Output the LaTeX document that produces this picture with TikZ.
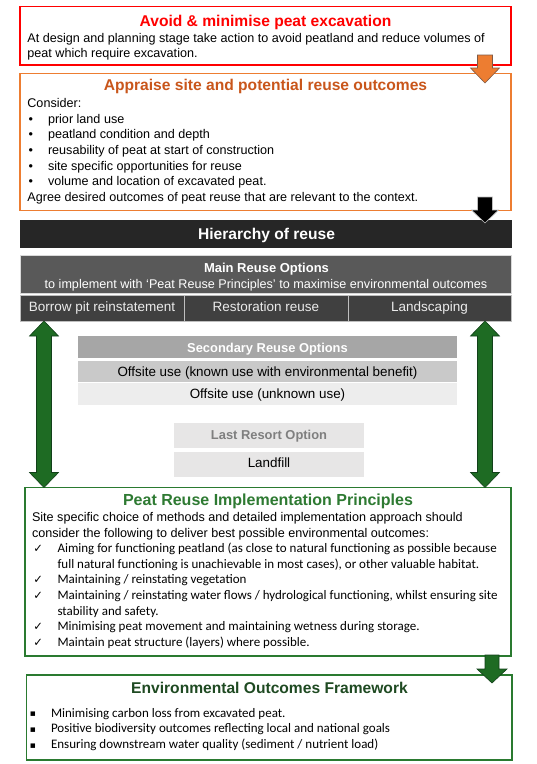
\documentclass[tikz,border=0pt]{standalone}
\usepackage{fontspec}
\setmainfont{Liberation Sans}
\newfontfamily\calfont{Carlito}
\newfontfamily\symfont{DejaVu Sans}
\usetikzlibrary{calc}
\definecolor{redc}{HTML}{FF0000}
\definecolor{orc}{HTML}{ED7D31}
\definecolor{ortitle}{HTML}{C9561B}
\definecolor{orline}{HTML}{7F5A45}
\definecolor{hierc}{HTML}{262626}
\definecolor{mainfill}{HTML}{595959}
\definecolor{cellfill}{HTML}{404040}
\definecolor{secfill}{HTML}{A6A6A6}
\definecolor{knownfill}{HTML}{C9C9C9}
\definecolor{unkfill}{HTML}{EDEDED}
\definecolor{lastfill}{HTML}{E7E6E6}
\definecolor{lasttext}{HTML}{7F7F7F}
\definecolor{grn}{HTML}{1E6B23}
\definecolor{grnline}{HTML}{12401A}
\definecolor{grnbox}{HTML}{2A7A30}
\definecolor{grntitle}{HTML}{2E7A32}
\definecolor{envtitle}{HTML}{1F4A22}
\newcommand\blockarrow[6]{% style, from, to, halfshaft, halfhead, headlength
  \filldraw[#1] let \p1=(#2), \p2=(#3) in
    (\x1-#4,\y1) -- (\x1+#4,\y1) -- (\x1+#4,\y2+#6) -- (\x1+#5,\y2+#6) -- (\x1,\y2)
    -- (\x1-#5,\y2+#6) -- (\x1-#4,\y2+#6) -- cycle;}
\newcommand\dblarrow[6]{% style, top, bottom, halfshaft, halfhead, headlength
  \filldraw[#1] let \p1=(#2), \p2=(#3) in
    (\x1,\y1) -- (\x1+#5,\y1-#6) -- (\x1+#4,\y1-#6) -- (\x1+#4,\y2+#6) -- (\x1+#5,\y2+#6)
    -- (\x1,\y2) -- (\x1-#5,\y2+#6) -- (\x1-#4,\y2+#6) -- (\x1-#4,\y1-#6) -- (\x1-#5,\y1-#6) -- cycle;}
\tikzset{
  bx/.style={anchor=north west, inner sep=0pt, outer sep=0pt},
  tx/.style={inner sep=0pt, outer sep=0pt},
  ttl/.style={tx, anchor=base, font=\fontsize{15.6}{18}\selectfont\bfseries},
  bod/.style={tx, anchor=base west, font=\fontsize{12.6}{15}\selectfont},
  bodc/.style={tx, anchor=base, font=\fontsize{12.6}{15}\selectfont},
  cel/.style={tx, anchor=base, font=\fontsize{13.5}{15}\selectfont, text=white!92!black},
  sec/.style={tx, anchor=base, font=\fontsize{13.4}{15}\selectfont},
  secb/.style={tx, anchor=base, font=\fontsize{12.9}{15}\selectfont\bfseries},
  cal/.style={tx, anchor=base west, font=\fontsize{13}{15}\calfont},
  chk/.style={tx, anchor=base west, font=\fontsize{11.5}{12}\symfont},
  sq/.style={tx, anchor=base west, font=\fontsize{9}{12}\symfont},
}
\begin{document}
\begin{tikzpicture}[x=1pt,y=-1pt]
\useasboundingbox (0,0) rectangle (537,764);
\fill[white] (0,0) rectangle (537,764);
% ---------- boxes
\node[bx, draw=redc, line width=1.1pt, minimum width=491pt, minimum height=58.5pt] (redbox) at (20,6.5) {};
\node[bx, draw=orc, line width=1.1pt, minimum width=491pt, minimum height=137.2pt] (orbox) at (20,73.3) {};
\node[bx, fill=hierc, minimum width=491.5pt, minimum height=28pt] (hier) at (20,219.5) {};
\node[bx, fill=mainfill, draw=white!85!black, line width=0.6pt, minimum width=491pt, minimum height=38pt] (mainbox) at (20,255) {};
\node[bx, fill=cellfill, draw=white!75!black, line width=0.8pt, minimum width=164pt, minimum height=26pt] (cell1) at (20,295) {};
\node[bx, fill=cellfill, draw=white!75!black, line width=0.8pt, minimum width=164pt, minimum height=26pt] (cell2) at (184,295) {};
\node[bx, fill=cellfill, draw=white!75!black, line width=0.8pt, minimum width=163pt, minimum height=26pt] (cell3) at (348,295) {};
\node[bx, fill=secfill, minimum width=379pt, minimum height=22pt] (secbox) at (78,336) {};
\node[bx, fill=knownfill, minimum width=379pt, minimum height=21.6pt] (knownbox) at (78,360.7) {};
\node[bx, fill=unkfill, minimum width=379pt, minimum height=22pt] (unkbox) at (78,383) {};
\node[bx, fill=lastfill, minimum width=190pt, minimum height=25pt] (lastbox) at (174,423.3) {};
\node[bx, fill=lastfill, minimum width=190pt, minimum height=25pt] (landbox) at (174,451.7) {};
\node[bx, draw=grnbox, line width=1.1pt, minimum width=486pt, minimum height=168.5pt] (pribox) at (25,487.5) {};
\node[bx, draw=grnbox, line width=1.1pt, minimum width=485.5pt, minimum height=85pt] (envbox) at (26.5,675) {};
% ---------- texts: avoid
\node[ttl, text=redc] (t1) at (265.5,26) {Avoid \& minimise peat excavation};
\node[bod] (t2) at (27.4,42.3) {At design and planning stage take action to avoid peatland and reduce volumes of};
\node[bod] (t3) at (27.4,57.6) {peat which require excavation.};
% ---------- appraise
\node[ttl, text=ortitle] (t4) at (265.5,90.7) {Appraise site and potential reuse outcomes};
\node[bod] (t5) at (27.4,107.7) {Consider:};
\foreach \yy/\tt [count=\i] in {123.3/prior land use, 138.9/peatland condition and depth, 154.5/reusability of peat at start of construction, 170.1/site specific opportunities for reuse, 185.7/volume and location of excavated peat.}{
  \node[bod] (ob\i) at (28.5,\yy) {•};
  \node[bod] (ot\i) at (48,\yy) {\tt};
}
\node[bod] (t6) at (27.4,201.3) {Agree desired outcomes of peat reuse that are relevant to the context.};
% ---------- hierarchy
\node[ttl, text=white] (t7) at (266.5,239.3) {Hierarchy of reuse};
\node[secb, font=\fontsize{13}{15}\selectfont\bfseries, text=white] (t8) at (266.5,272.7) {Main Reuse Options};
\node[bodc, text=white] (t9) at (266,288) {to implement with ‘Peat Reuse Principles’ to maximise environmental outcomes};
\node[cel] (c1) at (102,311.7) {Borrow pit reinstatement};
\node[cel] (c2) at (266,311.7) {Restoration reuse};
\node[cel] (c3) at (429.5,311.7) {Landscaping};
\node[secb, text=white] (s1) at (267.5,352.3) {Secondary Reuse Options};
\node[sec] (s2) at (267.5,376.7) {Offsite use (known use with environmental benefit)};
\node[sec] (s3) at (267.5,398.7) {Offsite use (unknown use)};
\node[secb, text=lasttext] (l1) at (269,439.3) {Last Resort Option};
\node[sec] (l2) at (269,467.3) {Landfill};
% ---------- principles
\node[ttl, font=\fontsize{16}{18}\selectfont\bfseries, text=grntitle] (p0) at (268,505) {Peat Reuse Implementation Principles};
\node[bod] (p1) at (32,521.5) {Site specific choice of methods and detailed implementation approach should};
\node[bod] (p2) at (32,537.1) {consider the following to deliver best possible environmental outcomes:};
\node[chk] (k1) at (33.5,552.7) {✓};
\node[cal] (p3) at (57.5,552.7) {Aiming for functioning peatland (as close to natural functioning as possible because};
\node[cal] (p4) at (57.5,568.3) {full natural functioning is unachievable in most cases), or other valuable habitat.};
\node[chk] (k2) at (33.5,583.9) {✓};
\node[cal] (p5) at (57.5,583.9) {Maintaining / reinstating vegetation};
\node[chk] (k3) at (33.5,599.5) {✓};
\node[cal] (p6) at (57.5,599.5) {Maintaining / reinstating water flows / hydrological functioning, whilst ensuring site};
\node[cal] (p7) at (57.5,615.1) {stability and safety.};
\node[chk] (k4) at (33.5,630.7) {✓};
\node[cal] (p8) at (57.5,630.7) {Minimising peat movement and maintaining wetness during storage.};
\node[chk] (k5) at (33.5,646.3) {✓};
\node[cal] (p9) at (57.5,646.3) {Maintain peat structure (layers) where possible.};
% ---------- environmental outcomes
\node[ttl, text=envtitle] (e0) at (269.5,693.3) {Environmental Outcomes Framework};
\node[sq] (q1) at (30,716.5) {▪};
\node[cal] (e1) at (51,717) {Minimising carbon loss from excavated peat.};
\node[sq] (q2) at (30,732.3) {▪};
\node[cal] (e2) at (51,732.8) {Positive biodiversity outcomes reflecting local and national goals};
\node[sq] (q3) at (30,748.1) {▪};
\node[cal] (e3) at (51,748.6) {Ensuring downstream water quality (sediment / nutrient load)};
% ---------- block arrows (connectors)
\coordinate (ax) at (485,0);
\coordinate (lx) at (44,0);
\coordinate (bx) at (492,0);
\coordinate (oaS) at ([yshift=10pt]redbox.south -| ax);
\coordinate (oaE) at ([yshift=-9.7pt]orbox.north -| ax);
\blockarrow{fill=orc, draw=orline, line width=0.6pt}{oaS}{oaE}{7.5pt}{14.5pt}{15pt}
\coordinate (baS) at ([yshift=13.5pt]orbox.south -| ax);
\coordinate (baE) at ([yshift=-3.5pt]hier.north -| ax);
\blockarrow{fill=black, draw=white!75!black, line width=0.6pt}{baS}{baE}{7.5pt}{13.5pt}{13pt}
\coordinate (glS) at (cell1.south -| lx);
\coordinate (glE) at (pribox.north -| lx);
\dblarrow{fill=grn, draw=grnline, line width=0.6pt}{glS}{glE}{7.5pt}{14.5pt}{15pt}
\coordinate (grS) at (cell3.south -| ax);
\coordinate (grE) at (pribox.north -| ax);
\dblarrow{fill=grn, draw=grnline, line width=0.6pt}{grS}{grE}{7.5pt}{14.5pt}{15pt}
\coordinate (gbS) at ([yshift=1pt]pribox.south -| bx);
\coordinate (gbE) at ([yshift=-8pt]envbox.north -| bx);
\blockarrow{fill=grn, draw=grnline, line width=0.6pt}{gbS}{gbE}{7pt}{15pt}{14pt}
\end{tikzpicture}
\end{document}
